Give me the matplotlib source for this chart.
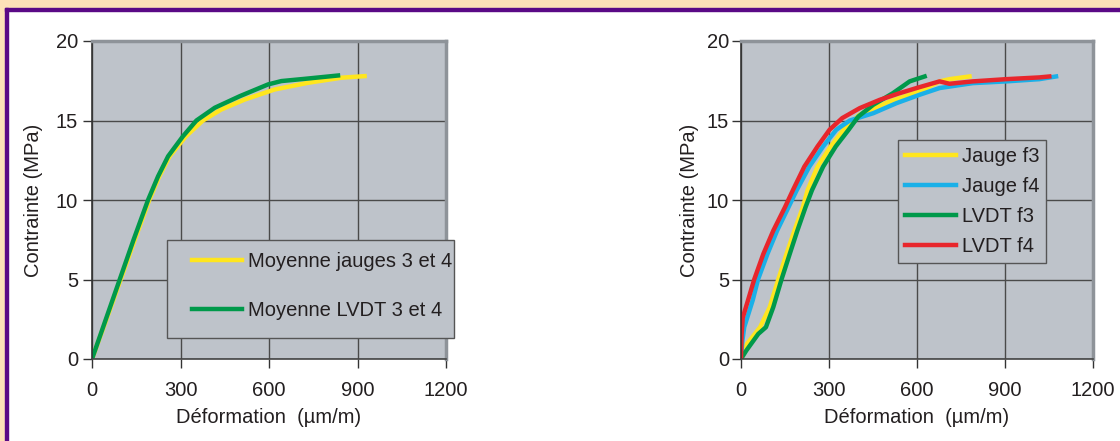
import matplotlib
matplotlib.use("Agg")
import matplotlib.pyplot as plt
from matplotlib.patches import Rectangle

plt.rcParams['font.family'] = ['Liberation Sans', 'DejaVu Sans']

# ---- data: left panel (Déformation µm/m, Contrainte MPa)
left_jauges_x = [0, 49, 97, 145, 194, 228, 263, 318, 376, 438, 518, 619, 732, 845, 924]
left_jauges_y = [0, 2.5, 5.0, 7.5, 10.0, 11.49, 12.75, 14.0, 15.0, 15.69, 16.32, 16.95, 17.37, 17.69, 17.79]
left_lvdt_x = [0, 47, 94, 141, 190, 224, 258, 308, 354, 416, 501, 597, 642, 721, 834]
left_lvdt_y = [0, 2.5, 5.0, 7.5, 10.0, 11.49, 12.75, 14.0, 15.0, 15.8, 16.53, 17.27, 17.48, 17.62, 17.83]

# ---- data: right panel
jauge_f3_x = [0, 20, 65, 98, 127, 155, 182, 211, 227, 261, 306, 350, 403, 507, 609, 677, 711, 779]
jauge_f3_y = [0, 0.94, 2.0, 3.26, 5.0, 6.6, 8.07, 9.55, 10.62, 12.1, 13.37, 14.42, 15.35, 16.2, 16.83, 17.46, 17.6, 17.77]
jauge_f4_x = [0, 5, 11, 40, 58, 90, 123, 162, 190, 233, 280, 325, 371, 451, 530, 609, 677, 790, 904, 1017, 1074]
jauge_f4_y = [0, 1.2, 2.0, 3.7, 5.0, 6.6, 8.07, 9.55, 10.62, 12.1, 13.37, 14.42, 15.0, 15.46, 16.09, 16.62, 17.04, 17.35, 17.46, 17.6, 17.77]
lvdt_f3_x = [0, 18, 59, 85, 110, 138, 166, 192, 220, 242, 280, 323, 367, 400, 451, 518, 575, 626]
lvdt_f3_y = [0, 0.53, 1.58, 2.0, 3.26, 5.0, 6.6, 8.07, 9.55, 10.62, 12.1, 13.37, 14.42, 15.25, 15.99, 16.72, 17.46, 17.77]
lvdt_f4_x = [0, 2, 6, 24, 45, 76, 110, 150, 177, 216, 261, 302, 345, 405, 473, 541, 609, 677, 711, 790, 904, 1017, 1051]
lvdt_f4_y = [0, 1.5, 2.6, 3.7, 5.0, 6.6, 8.07, 9.55, 10.62, 12.1, 13.37, 14.42, 15.15, 15.78, 16.3, 16.72, 17.1, 17.46, 17.31, 17.46, 17.6, 17.71, 17.77]

x_ticks = [0, 300, 600, 900, 1200]
y_ticks = [0, 5, 10, 15, 20]
x_label = "Déformation  (µm/m)"
y_label = "Contrainte (MPa)"
left_labels = ["Moyenne jauges 3 et 4", "Moyenne LVDT 3 et 4"]
right_labels = ["Jauge f3", "Jauge f4", "LVDT f3", "LVDT f4"]

YELLOW = "#FFE61E"
GREEN = "#00994A"
BLUE = "#1AB0E8"
RED = "#E8262C"
BG = "#BEC3CA"
GRID = "#4A4A4A"
TXT = "#231F20"
FS = 14.5

W, H = 1120, 441
fig = plt.figure(figsize=(W / 100, H / 100), dpi=100)
fig.patch.set_facecolor("white")

# decorative frame
peach = "#FDE2B8"
purple = "#5A0A86"
fig.patches.append(Rectangle((0, 1 - 8 / H), 1, 8 / H, transform=fig.transFigure, color=peach, zorder=0))
fig.patches.append(Rectangle((0, 0), 5 / W, 1, transform=fig.transFigure, color=peach, zorder=0))
fig.patches.append(Rectangle((5 / W, 1 - 11 / H), 1, 3 / H, transform=fig.transFigure, color=purple, zorder=1))
fig.patches.append(Rectangle((5 / W, 0), 3 / W, 1 - 8 / H, transform=fig.transFigure, color=purple, zorder=1))


def make_axes(x0, x1, ypad, ylabelpad):
    ax = fig.add_axes([x0 / W, 1 - 359 / H, (x1 - x0) / W, (359 - 41) / H])
    ax.set_facecolor(BG)
    ax.set_xlim(0, 1200)
    ax.set_ylim(0, 20)
    ax.set_xticks(x_ticks)
    ax.set_yticks(y_ticks)
    ax.grid(True, color=GRID, lw=1.0)
    ax.set_axisbelow(True)
    for s in ["top", "right"]:
        ax.spines[s].set_color("#8E9399")
        ax.spines[s].set_linewidth(2.5)
    ax.spines["left"].set_color("#333333")
    ax.spines["bottom"].set_color("#444444")
    ax.spines["left"].set_linewidth(1.2)
    ax.spines["bottom"].set_linewidth(1.2)
    ax.tick_params(direction="out", length=6.5, width=1, colors="#333333",
                   labelsize=FS, labelcolor=TXT)
    ax.tick_params(axis="x", pad=9)
    ax.tick_params(axis="y", pad=ypad)
    ax.set_xlabel(x_label, fontsize=FS, color=TXT, labelpad=6)
    ax.set_ylabel(y_label, fontsize=FS, color=TXT, labelpad=ylabelpad)
    return ax


LW = 3.2
ax1 = make_axes(92, 446, 3.6, 9)
ax1.plot(left_jauges_x, left_jauges_y, color=YELLOW, lw=LW, label=left_labels[0])
ax1.plot(left_lvdt_x, left_lvdt_y, color=GREEN, lw=LW, label=left_labels[1])
ax1.add_patch(Rectangle((0.211, 0.066), 0.811, 0.308, transform=ax1.transAxes,
                        facecolor=BG, edgecolor="#555555", lw=1, clip_on=False, zorder=4))
leg1 = ax1.legend(loc="upper left", bbox_to_anchor=(0.2825, 0.335), borderaxespad=0, borderpad=0,
                  frameon=False, fontsize=FS, handlelength=2.5, handletextpad=0.3,
                  labelspacing=1.45, labelcolor=TXT)
leg1.set_zorder(5)

ax2 = make_axes(741, 1093, 2.0, 6)
ax2.plot(jauge_f3_x, jauge_f3_y, color=YELLOW, lw=LW, label=right_labels[0])
ax2.plot(jauge_f4_x, jauge_f4_y, color=BLUE, lw=LW, label=right_labels[1])
ax2.plot(lvdt_f3_x, lvdt_f3_y, color=GREEN, lw=LW, label=right_labels[2])
ax2.plot(lvdt_f4_x, lvdt_f4_y, color=RED, lw=LW, label=right_labels[3])
leg2 = ax2.legend(loc="upper left", bbox_to_anchor=(0.447, 0.689), borderaxespad=0, borderpad=0.35,
                  fontsize=FS, handlelength=2.5, handletextpad=0.3, labelspacing=0.55,
                  labelcolor=TXT, fancybox=False, framealpha=1, facecolor=BG, edgecolor="#555555")
leg2.get_frame().set_linewidth(1)

fig.savefig("out.png", dpi=100, facecolor="white")
